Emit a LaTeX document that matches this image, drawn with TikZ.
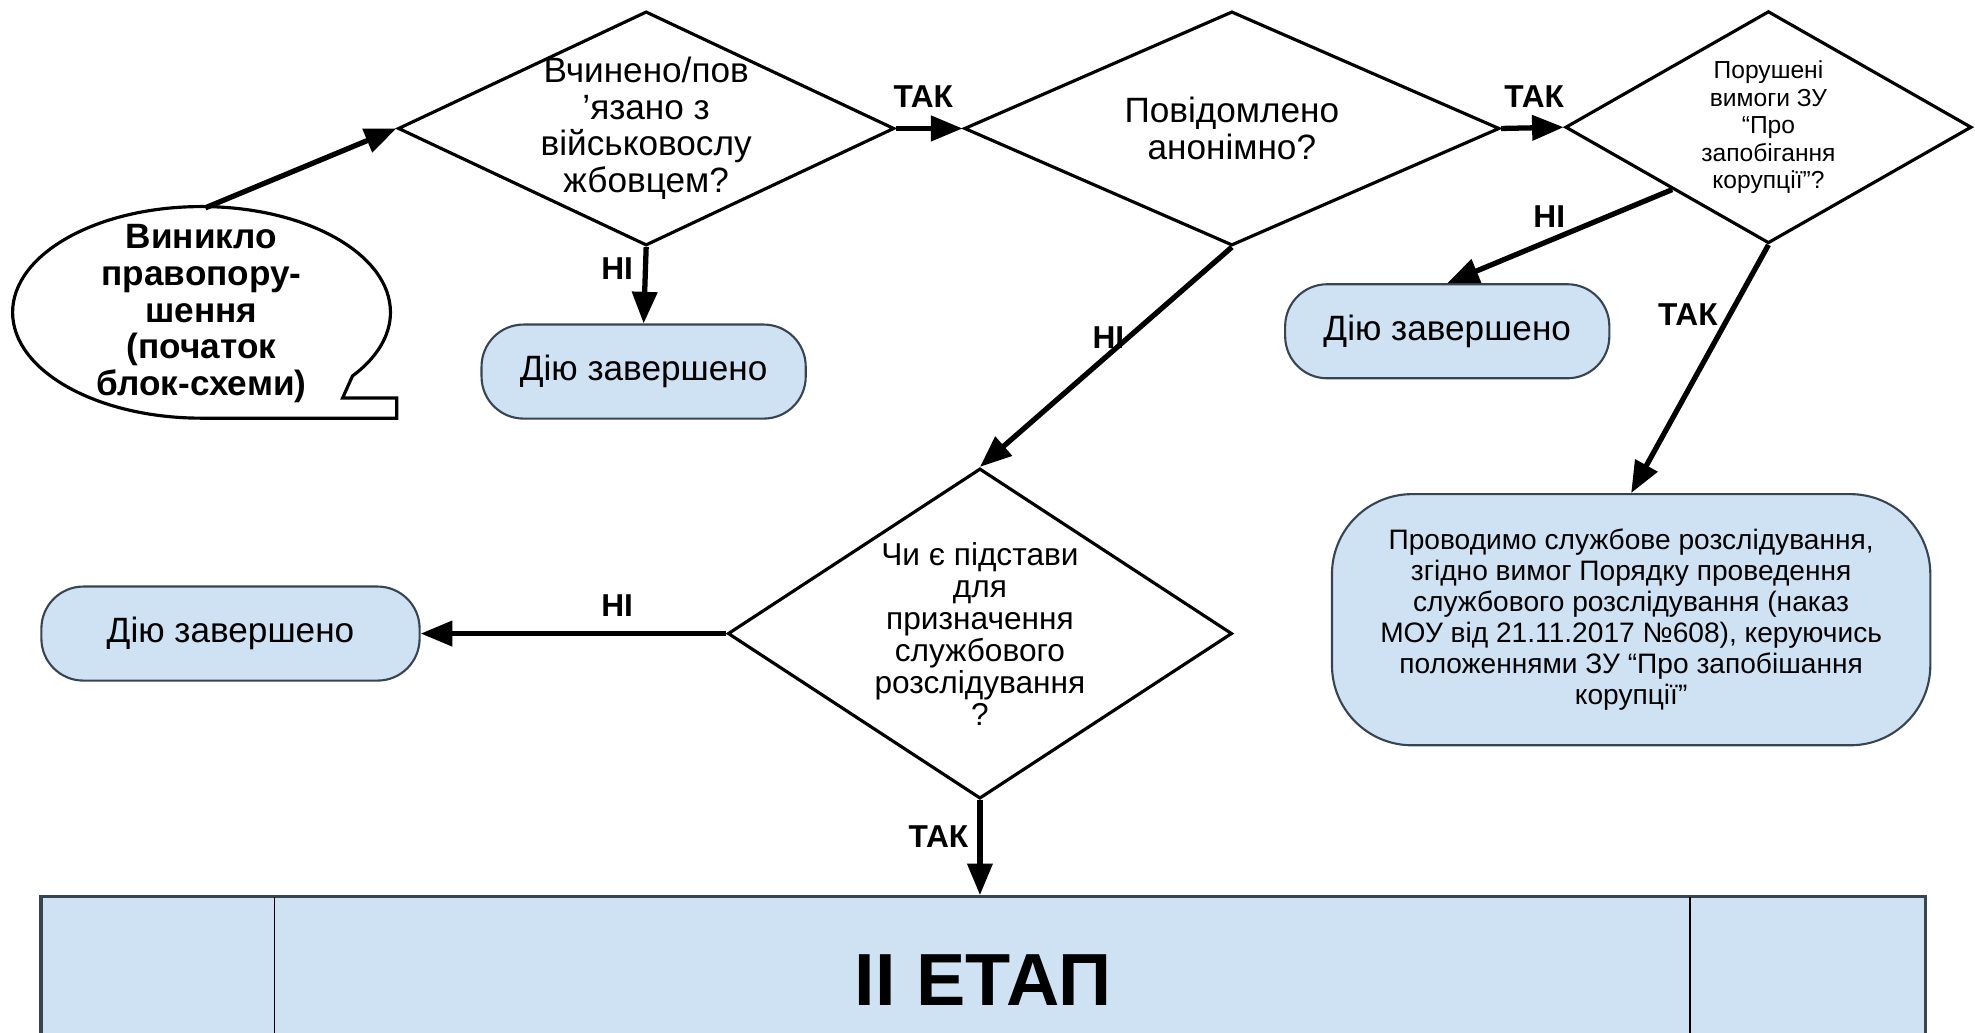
\documentclass[tikz,border=0pt]{standalone}
\usepackage{fontspec}
\setmainfont{Liberation Sans}
\usetikzlibrary{shapes.geometric,arrows.meta,calc}
\definecolor{boxblue}{RGB}{207,226,243}
\definecolor{boxedge}{RGB}{55,68,82}

\begin{document}
\begin{tikzpicture}[x=0.012596cm, y=-0.012596cm,
  decision/.style={diamond, draw, line width=0.9pt, inner sep=0pt},
  qtext/.style={align=center, inner sep=0pt, font=\fontsize{10}{10.4}\selectfont},
  endbox/.style={draw=boxedge, fill=boxblue, rounded corners=0.42cm, line width=0.6pt,
                 minimum width=3.24cm, minimum height=0.94cm, font=\fontsize{10}{12}\selectfont},
  flow/.style={line width=1.5pt, -{Triangle[length=9pt,width=7pt]}},
  answer/.style={font=\bfseries\fontsize{9}{10}\selectfont, inner sep=1pt}
]
% page frame
\useasboundingbox (0,0) rectangle (1568,820);

% start callout
\draw[line width=0.9pt] (160,332) arc[start angle=90, end angle=397, x radius=150, y radius=84]
    -- (272,316) -- (315,316) -- (315,332) -- cycle;
\node[align=center, font=\bfseries\fontsize{10}{10.4}\selectfont] (start) at (160,249)
    {Виникло\\правопору-\\шення\\(початок\\блок-схеми)};
\coordinate (starttop) at (163,165);

% decisions
\node[decision, minimum width=4.96cm, minimum height=2.34cm] (d1) at (513,102) {};
\node[qtext] (d1text) at (d1) {Вчинено/пов\\’язано з\\військовослу\\жбовцем?};

\node[decision, minimum width=5.35cm, minimum height=2.34cm] (d2) at (978,102) {};
\node[qtext] (d2text) at (d2) {Повідомлено\\анонімно?};

\node[decision, minimum width=4.06cm, minimum height=2.32cm] (d3) at (1404,101) {};
\node[qtext, font=\fontsize{7}{7.8}\selectfont] (d3text) at (d3)
    {Порушені\\вимоги ЗУ\\“Про\\запобігання\\корупції”?};

\node[decision, minimum width=5.04cm, minimum height=3.30cm] (d4) at (778,503) {};
\node[qtext, font=\fontsize{9}{9.1}\selectfont] (d4text) at (d4)
    {Чи є підстави\\для\\призначення\\службового\\розслідування\\?};

% terminal boxes
\node[endbox] (end1) at (511,295) {Дію завершено};
\node[endbox] (end2) at (1149,263) {Дію завершено};
\node[endbox, minimum width=3.78cm] (end3) at (183,503) {Дію завершено};

\node[endbox, minimum width=5.98cm, minimum height=2.51cm, rounded corners=0.8cm,
      align=center, font=\fontsize{8}{8.8}\selectfont] (probe) at (1295,492)
    {Проводимо службове розслідування,\\згідно вимог Порядку проведення\\службового розслідування (наказ\\МОУ від 21.11.2017 №608), керуючись\\положеннями ЗУ “Про запобішання\\корупції”};

% second stage band
\node[fill=boxblue, draw=boxedge, line width=0.9pt, minimum width=18.83cm, minimum height=1.663cm,
      font=\bfseries\fontsize{21}{24}\selectfont] (band) at (780.5,778) {II ЕТАП};
\draw[line width=0.5pt] (218,712) -- (218,820);
\draw[line width=0.5pt] (1342,712) -- (1342,820);

% connectors
\draw[flow] (starttop) -- (d1.west);
\draw[flow] (d1.east) -- (d2.west);
\draw[flow] (d1.south) -- (end1.north);
\draw[flow] (d2.east) -- (d3.west);
\draw[flow] (d2.south) -- (d4.north);
\draw[flow] ($(d3.west)!0.53!(d3.south)$) -- (end2.north);
\draw[flow] (d3.south) -- (probe.north);
\draw[flow] (d4.west) -- (end3.east);
\draw[flow] (d4.south) -- (d4.south |- band.north);

% answers
\foreach \lbl/\x/\y/\txt in {yes1/733/77/ТАК, no1/490/213/НІ, yes2/1218/77/ТАК, no2/1230/172/НІ,
                             yes3/1340/250/ТАК, no3/880/268/НІ, no4/490/481/НІ, yes4/745/664/ТАК}
    \node[answer] (\lbl) at (\x,\y) {\txt};

\end{tikzpicture}
\end{document}
